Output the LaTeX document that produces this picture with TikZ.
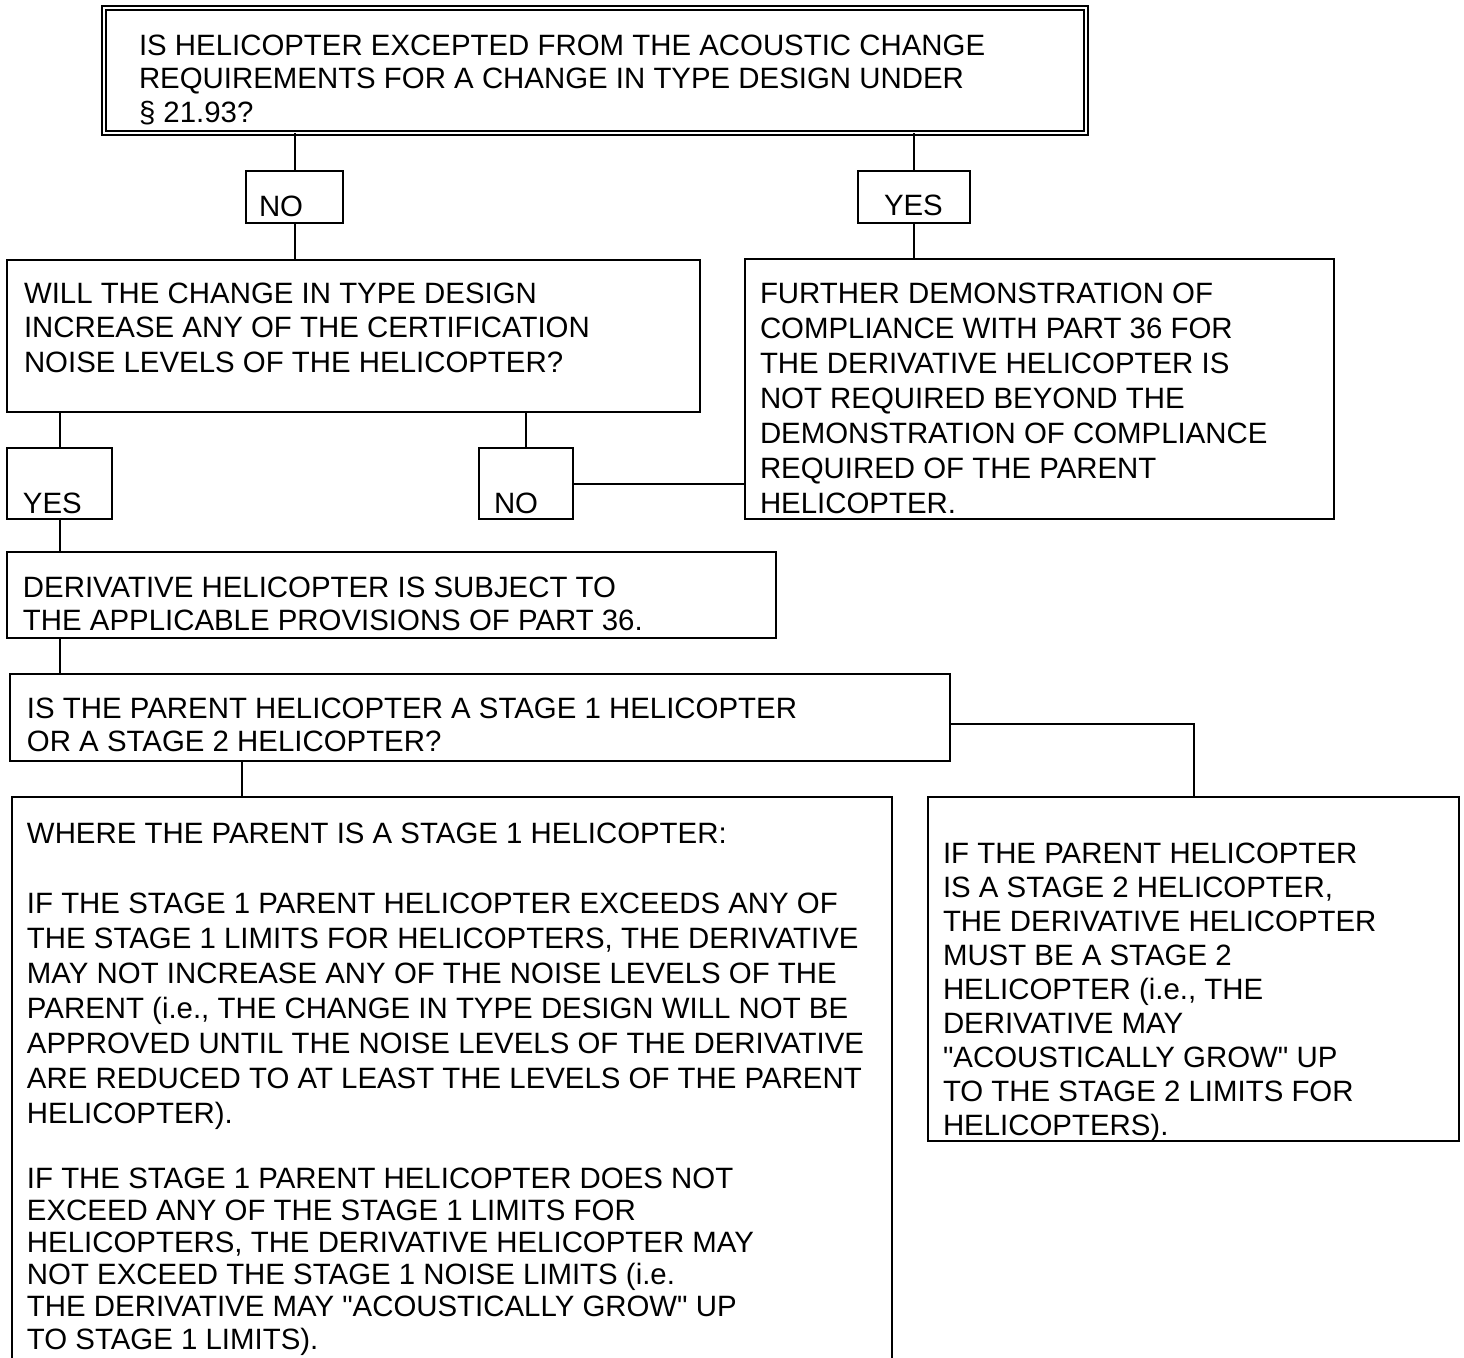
\documentclass[tikz,border=0pt]{standalone}
\usepackage{fontspec}
\setmainfont{Liberation Sans}[Ligatures=TeXOff]
\usetikzlibrary{calc}
\newcommand\fsz[1]{\fontsize{29.4pt}{#1pt}\selectfont}
\newcommand\fr{\rule{0pt}{25pt}}
\begin{document}
\begin{tikzpicture}[x=1pt,y=-1pt,
  box/.style={draw, line width=2.2pt, rectangle, inner sep=0pt, outer sep=0pt, anchor=north west},
  dbox/.style={draw, line width=1.6pt, double, double distance=2.2pt, rectangle, inner sep=0pt, outer sep=0pt, anchor=north west},
  conn/.style={line width=2pt},
  txt/.style={anchor=north west, inner sep=0pt, outer sep=0pt, align=left},
]
\useasboundingbox (0,0) rectangle (1464,1357);
\clip (0,0) rectangle (1464,1357);

% boxes
\node[dbox, minimum width=982pt, minimum height=125pt] (top) at (104,8) {};
\node[box, minimum width=97pt, minimum height=52pt] (no1) at (246,171) {};
\node[box, minimum width=112pt, minimum height=52pt] (yes1) at (858,171) {};
\node[box, minimum width=693pt, minimum height=152pt] (will) at (7,260) {};
\node[box, minimum width=589pt, minimum height=260pt] (further) at (745,259) {};
\node[box, minimum width=105pt, minimum height=71pt] (yes2) at (7,448) {};
\node[box, minimum width=94pt, minimum height=71pt] (no2) at (479,448) {};
\node[box, minimum width=769pt, minimum height=86pt] (deriv) at (7,552) {};
\node[box, minimum width=940pt, minimum height=87pt] (ispar) at (10,674) {};
\node[box, minimum width=880pt, minimum height=620pt] (big) at (12,797) {};
\node[box, minimum width=531pt, minimum height=344pt] (ifbox) at (928,797) {};

% connectors
\draw[conn] (top.south -| no1.north) -- (no1.north);
\draw[conn] (top.south -| yes1.north) -- (yes1.north);
\draw[conn] (no1.south) -- (no1.south |- will.north);
\draw[conn] (yes1.south) -- (yes1.south |- further.north);
\draw[conn] (will.south -| yes2.north) -- (yes2.north);
\draw[conn] (will.south -| no2.north) -- (no2.north);
\draw[conn] (no2.east) -- (no2.east -| further.west);
\draw[conn] (yes2.south) -- (yes2.south |- deriv.north);
\draw[conn] (yes2.south |- deriv.south) -- (yes2.south |- ispar.north);
\coordinate (isb) at ($(ispar.south west)+(232,0)$);
\draw[conn] (isb) -- (isb |- big.north);
\coordinate (ise) at ($(ispar.south east)+(0,-37)$);
\draw[conn] (ise) -| (ifbox.north);

% texts
\node[txt, font=\fsz{33.5}] (ttop) at (139,30) {\fr IS HELICOPTER EXCEPTED FROM THE ACOUSTIC CHANGE\\REQUIREMENTS FOR A CHANGE IN TYPE DESIGN UNDER\\§ 21.93?};
\node[txt, font=\fsz{35}] (tno1) at (259,191) {\fr NO};
\node[txt, font=\fsz{35}] (tyes1) at (884,190) {\fr YES};
\node[txt, font=\fsz{34.5}] (twill) at (24,278) {\fr WILL THE CHANGE IN TYPE DESIGN\\INCREASE ANY OF THE CERTIFICATION\\NOISE LEVELS OF THE HELICOPTER?};
\node[txt, font=\fsz{35}] (tfur) at (760,278) {\fr FURTHER DEMONSTRATION OF\\COMPLIANCE WITH PART 36 FOR\\THE DERIVATIVE HELICOPTER IS\\NOT REQUIRED BEYOND THE\\DEMONSTRATION OF COMPLIANCE\\REQUIRED OF THE PARENT\\HELICOPTER.};
\node[txt, font=\fsz{35}] (tyes2) at (23,488) {\fr YES};
\node[txt, font=\fsz{35}] (tno2) at (494,488) {\fr NO};
\node[txt, font=\fsz{33}] (tder) at (23,572) {\fr DERIVATIVE HELICOPTER IS SUBJECT TO\\THE APPLICABLE PROVISIONS OF PART 36.};
\node[txt, font=\fsz{33}] (tisp) at (27,693) {\fr IS THE PARENT HELICOPTER A STAGE 1 HELICOPTER\\OR A STAGE 2 HELICOPTER?};
\node[txt, font=\fsz{35}] (tbig1) at (27,818) {\fr WHERE THE PARENT IS A STAGE 1 HELICOPTER:};
\node[txt, font=\fsz{35.1}] (tbig2) at (27,888) {\fr IF THE STAGE 1 PARENT HELICOPTER EXCEEDS ANY OF\\THE STAGE 1 LIMITS FOR HELICOPTERS, THE DERIVATIVE\\MAY NOT INCREASE ANY OF THE NOISE LEVELS OF THE\\PARENT (i.e., THE CHANGE IN TYPE DESIGN WILL NOT BE\\APPROVED UNTIL THE NOISE LEVELS OF THE DERIVATIVE\\ARE REDUCED TO AT LEAST THE LEVELS OF THE PARENT\\HELICOPTER).};
\node[txt, font=\fsz{32.2}] (tbig3) at (27,1163) {\fr IF THE STAGE 1 PARENT HELICOPTER DOES NOT\\EXCEED ANY OF THE STAGE 1 LIMITS FOR\\HELICOPTERS, THE DERIVATIVE HELICOPTER MAY\\NOT EXCEED THE STAGE 1 NOISE LIMITS (i.e.\\THE DERIVATIVE MAY "ACOUSTICALLY GROW" UP\\TO STAGE 1 LIMITS).};
\node[txt, font=\fsz{34}] (tif) at (943,838) {\fr IF THE PARENT HELICOPTER\\IS A STAGE 2 HELICOPTER,\\THE DERIVATIVE HELICOPTER\\MUST BE A STAGE 2\\HELICOPTER (i.e., THE\\DERIVATIVE MAY\\"ACOUSTICALLY GROW" UP\\TO THE STAGE 2 LIMITS FOR\\HELICOPTERS).};
\end{tikzpicture}
\end{document}
